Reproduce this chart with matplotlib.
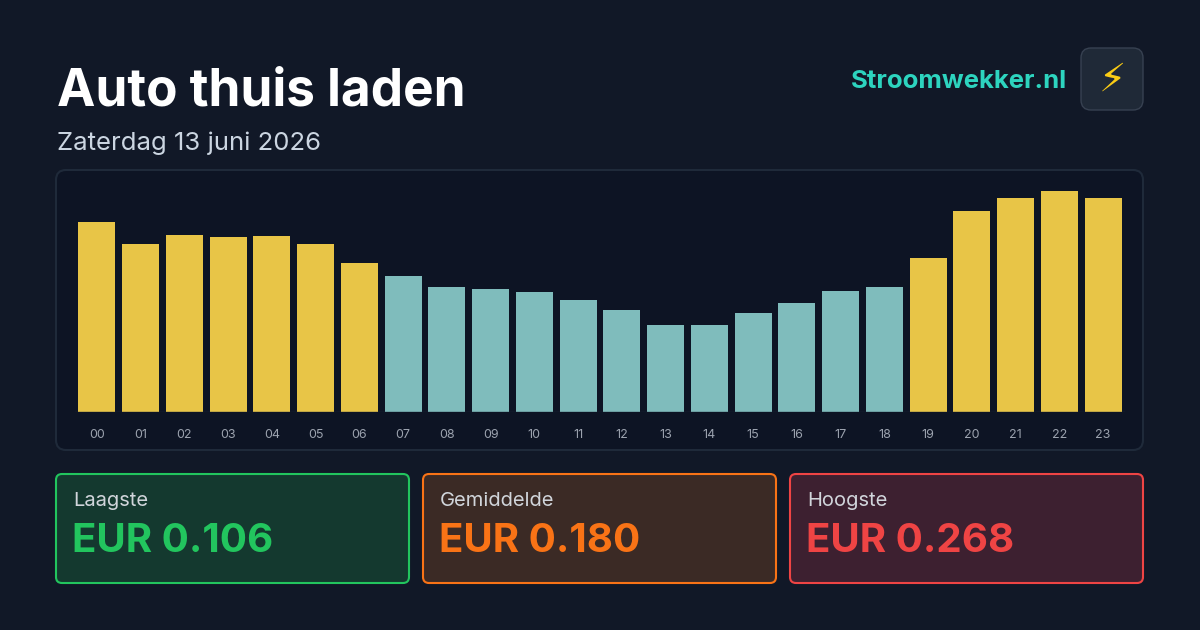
import matplotlib
matplotlib.use("Agg")
import matplotlib.pyplot as plt
from matplotlib.patches import FancyBboxPatch

hours = [f"{h:02d}" for h in range(24)]
prices = [0.230, 0.203, 0.215, 0.212, 0.213, 0.203, 0.181, 0.165, 0.152, 0.149, 0.146, 0.136,
          0.124, 0.106, 0.106, 0.120, 0.132, 0.147, 0.152, 0.187, 0.244, 0.259, 0.268, 0.259]
title = "Auto thuis laden"
subtitle = "Zaterdag 13 juni 2026"
brand = "Stroomwekker.nl"
card_labels = ["Laagste", "Gemiddelde", "Hoogste"]
card_values = ["EUR 0.106", "EUR 0.180", "EUR 0.268"]

plt.rcParams['font.family'] = ['Inter', 'DejaVu Sans']
BG = "#111827"
fig = plt.figure(figsize=(12, 6.3), dpi=100, facecolor=BG)
bg = fig.add_axes([0, 0, 1, 1])
bg.set_xlim(0, 1200); bg.set_ylim(630, 0); bg.axis("off")

bg.text(57, 92, title, color="white", fontsize=37, fontweight="bold", va="center")
bg.text(57, 143, subtitle, color="#cbd5e1", fontsize=18.5, va="center")
bg.text(1067, 81, brand, color="#2dd4bf", fontsize=18.5, fontweight="bold", va="center", ha="right")
bg.add_patch(FancyBboxPatch((1081, 48), 62, 62, boxstyle="round,pad=0,rounding_size=10",
                            fc="#1f2937", ec="#374151", lw=1))
bg.text(1112, 80, "⚡", color="#facc15", fontsize=28, ha="center", va="center", family=['DejaVu Sans'])

bg.add_patch(FancyBboxPatch((56, 170), 1087, 280, boxstyle="round,pad=0,rounding_size=10",
                            fc="#0d1424", ec="#1f2a3a", lw=1.5))

cards = [((56, 474), "#14392f", "#22c55e", "#22c55e"),
         ((423, 474), "#3b2a25", "#f97316", "#f97316"),
         ((790, 474), "#3d2030", "#ef4444", "#ef4444")]
for (xy, fc, ec, tc), lab, val in zip(cards, card_labels, card_values):
    bg.add_patch(FancyBboxPatch(xy, 353, 109, boxstyle="round,pad=0,rounding_size=6",
                                fc=fc, ec=ec, lw=1.5))
    bg.text(xy[0] + 17, 501, lab, color="#d1d5db", fontsize=14.5, va="center")
    bg.text(xy[0] + 16, 542, val, color=tc, fontsize=29, fontweight="bold", va="center")

ax = fig.add_axes([75 / 1200, 1 - 412 / 630, 1050 / 1200, 222 / 630])
ax.set_facecolor("none")
cols = ["#e8c547" if p >= 0.18 else "#7fbcbc" for p in prices]
ax.bar(range(24), prices, width=0.85, color=cols)
ax.set_xlim(-0.5, 23.5); ax.set_ylim(0, 0.269)
ax.set_xticks(range(24)); ax.set_xticklabels(hours, color="#9ca3af", fontsize=9)
ax.tick_params(length=0, pad=12)
ax.set_yticks([])
for s in ax.spines.values():
    s.set_visible(False)
ax.axhline(0, color="#1f2a3a", lw=1)
fig.savefig("out.png", facecolor=BG)
